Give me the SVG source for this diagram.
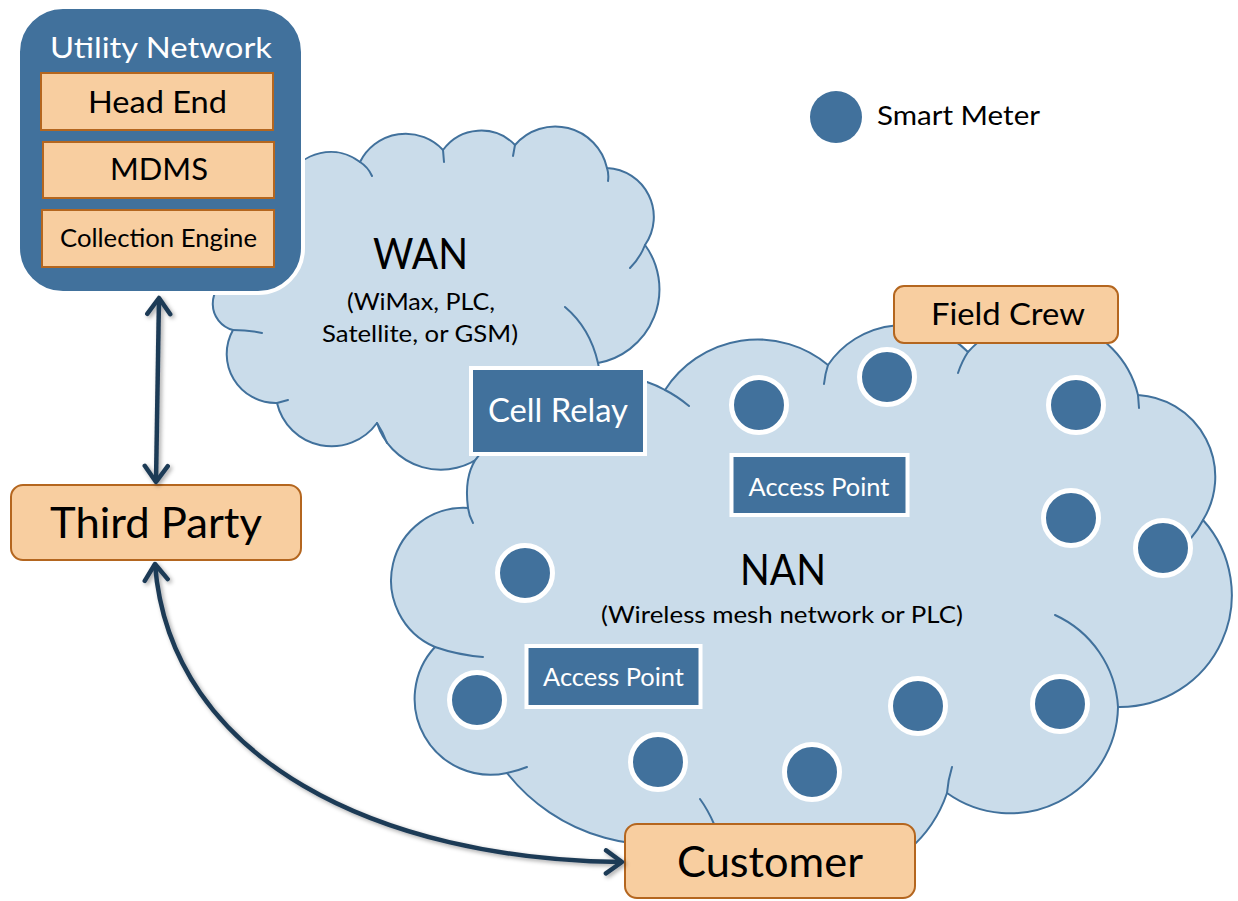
<svg xmlns="http://www.w3.org/2000/svg" width="1238" height="901" viewBox="0 0 1238 901">
<style>
.cloud{fill:#CADCEA;stroke:#41719C;stroke-width:2;stroke-linejoin:round}
.tail{fill:none;stroke:#41719C;stroke-width:2;stroke-linecap:round}
.peach{fill:#F8CEA0;stroke:#B4661F;stroke-width:2}
.blue{fill:#41719C;stroke:#fff;stroke-width:4}
.meter{fill:#41719C;stroke:#fff;stroke-width:5}
.t{font-family:Lato,"Open Sans","Liberation Sans",sans-serif;text-anchor:middle;fill:#000}
.w{fill:#fff}
.conn{fill:none;stroke:#1F3B56;stroke-width:4.5}
</style>
<defs>
<marker id="arr" viewBox="0 0 22 28" refX="19" refY="14" markerWidth="22" markerHeight="28" markerUnits="userSpaceOnUse" orient="auto-start-reverse">
<path d="M3,2.5 L19,14 L3,25.5" fill="none" stroke="#1F3B56" stroke-width="4.5" stroke-linecap="round" stroke-linejoin="round"/>
</marker>
<filter id="sh" filterUnits="userSpaceOnUse" x="0" y="0" width="1238" height="901">
<feDropShadow dx="2" dy="2" stdDeviation="2" flood-color="#000" flood-opacity="0.35"/>
</filter>
</defs>
<rect width="1238" height="901" fill="#fff"/>

<g id="wan">
<path class="cloud" d="M288,178 A48,48 0 0 1 360,162 A51,51 0 0 1 443,150 A47,47 0 0 1 515,145 A53,53 0 0 1 607,168 A49,49 0 0 1 645,245 A75,75 0 0 1 598,363 A80,80 0 0 1 484,454 A67,67 0 0 1 377,423 A56,56 0 0 1 277,403 A49,49 0 0 1 233,330 A27,27 0 0 1 232,278 L260,240 Z"/>
<path class="tail" d="M360,162 Q368,167 372,176 M443,150 L444,162 M515,145 L513,156 M607,168 Q609,174 608,181 M645,245 Q640,258 630,268 M565,307 Q590,328 598,363 M377,423 Q383,432 387,443 M277,403 L288,400 M233,330 Q248,330 262,333"/>
<text class="t" x="420.5" y="269" font-size="43" textLength="95" lengthAdjust="spacingAndGlyphs">WAN</text>
<text class="t" x="421" y="310" font-size="23" textLength="148" lengthAdjust="spacingAndGlyphs">(WiMax, PLC,</text>
<text class="t" x="420" y="342" font-size="23" textLength="196" lengthAdjust="spacingAndGlyphs">Satellite, or GSM)</text>
</g>

<g id="nan">
<path class="cloud" d="M665,390 A110,110 0 0 1 828,365 A91,91 0 0 1 968,352 A99,99 0 0 1 1138,395 A82,82 0 0 1 1203,520 A112,112 0 0 1 1118,707 A108,108 0 0 1 947,793 A130,130 0 0 1 722,832 A188,188 0 0 1 507,773 A76,76 0 0 1 435,647 A72.5,72.5 0 0 1 468,508 Q463,470 482,452 L600,375 L647,382 Q656,385 665,390 Z"/>
<path class="tail" d="M665,390 Q677,396 689,406 M828,365 Q825,374 824,384 M968,352 Q962,361 958,373 M1138,395 L1139,408 M1203,520 Q1198,530 1191,538 M1055,615 A108,108 0 0 1 1118,707 M947,793 Q948,780 952,767 M700,799 Q708,810 714,824 M507,773 Q517,771 527,767 M435,647 Q458,655 483,657 M468,508 Q469,516 473,523"/>
<text class="t" x="783" y="585" font-size="42" textLength="86" lengthAdjust="spacingAndGlyphs">NAN</text>
<text class="t" x="782" y="623" font-size="23" textLength="362" lengthAdjust="spacingAndGlyphs">(Wireless mesh network or PLC)</text>
</g>

<g id="meters">
<circle id="meter1" class="meter" cx="759" cy="405" r="27.5"/>
<circle id="meter2" class="meter" cx="887" cy="377" r="27.5"/>
<circle id="meter3" class="meter" cx="1076" cy="405" r="27.5"/>
<circle id="meter4" class="meter" cx="1071" cy="518" r="27.5"/>
<circle id="meter5" class="meter" cx="1163" cy="548" r="27.5"/>
<circle id="meter6" class="meter" cx="525" cy="573" r="27.5"/>
<circle id="meter7" class="meter" cx="477" cy="700" r="27.5"/>
<circle id="meter8" class="meter" cx="658" cy="762" r="27.5"/>
<circle id="meter9" class="meter" cx="918" cy="706" r="27.5"/>
<circle id="meter10" class="meter" cx="1060" cy="704" r="27.5"/>
<circle id="meter11" class="meter" cx="812" cy="772" r="27.5"/>
</g>

<g id="cell-relay">
<rect class="blue" x="471" y="368" width="174" height="86"/>
<text class="t w" x="558" y="422" font-size="32.5" textLength="140" lengthAdjust="spacingAndGlyphs">Cell Relay</text>
</g>
<g id="access-point-1">
<rect class="blue" x="731.5" y="455" width="176" height="60"/>
<text class="t w" x="819" y="496" font-size="25" textLength="141" lengthAdjust="spacingAndGlyphs">Access Point</text>
</g>
<g id="access-point-2">
<rect class="blue" x="526.5" y="646" width="174" height="61"/>
<text class="t w" x="613.5" y="686" font-size="25" textLength="141" lengthAdjust="spacingAndGlyphs">Access Point</text>
</g>

<g id="utility-network">
<rect x="18" y="7" width="285" height="286" rx="45" fill="#41719C" stroke="#fff" stroke-width="4"/>
<text class="t w" x="161" y="58" font-size="29" textLength="222" lengthAdjust="spacingAndGlyphs">Utility Network</text>
</g>
<g id="head-end">
<rect class="peach" x="41" y="73" width="232" height="57"/>
<text class="t" x="157.5" y="113" font-size="30" textLength="139" lengthAdjust="spacingAndGlyphs">Head End</text>
</g>
<g id="mdms">
<rect class="peach" x="43" y="142" width="231" height="56"/>
<text class="t" x="159" y="180" font-size="30" textLength="98" lengthAdjust="spacingAndGlyphs">MDMS</text>
</g>
<g id="collection-engine">
<rect class="peach" x="42" y="210" width="232" height="57"/>
<text class="t" x="158.5" y="247" font-size="25" textLength="197" lengthAdjust="spacingAndGlyphs">Collection Engine</text>
</g>

<g id="third-party">
<rect class="peach" x="11" y="485" width="290" height="75" rx="12"/>
<text class="t" x="156" y="538" font-size="43" textLength="212" lengthAdjust="spacingAndGlyphs">Third Party</text>
</g>
<g id="customer">
<rect class="peach" x="625" y="824" width="290" height="74" rx="12"/>
<text class="t" x="770" y="877" font-size="42" textLength="186" lengthAdjust="spacingAndGlyphs">Customer</text>
</g>
<g id="field-crew">
<rect class="peach" x="894" y="286" width="224" height="57" rx="10"/>
<text class="t" x="1008" y="325" font-size="30.5" textLength="154" lengthAdjust="spacingAndGlyphs">Field Crew</text>
</g>

<g id="legend">
<circle cx="836" cy="117" r="26" fill="#41719C"/>
<text class="t" x="877" y="125" font-size="27.5" style="text-anchor:start" textLength="163" lengthAdjust="spacingAndGlyphs">Smart Meter</text>
</g>

<g id="connectors" filter="url(#sh)">
<path class="conn" d="M159,298 L156,482" marker-start="url(#arr)" marker-end="url(#arr)"/>
<path class="conn" d="M155,564 C170,760 380,860 622,862" marker-start="url(#arr)" marker-end="url(#arr)"/>
</g>
</svg>
